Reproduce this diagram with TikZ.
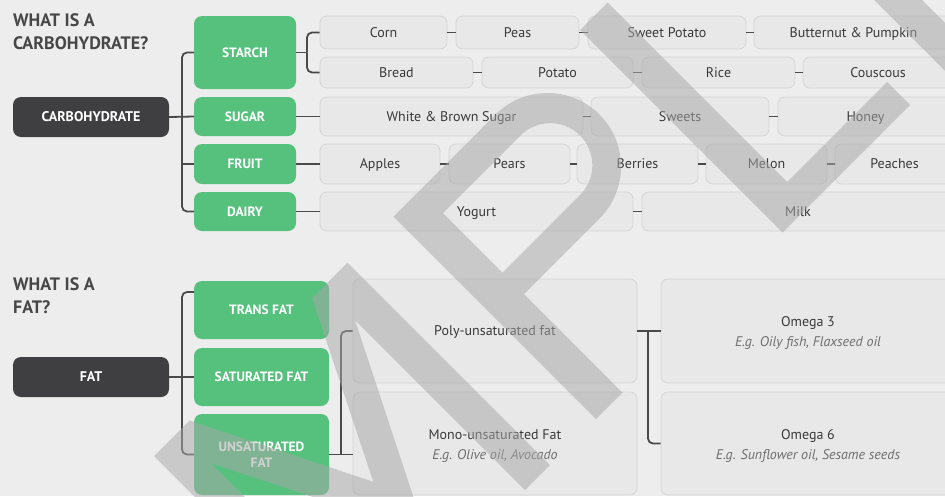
\documentclass[tikz,border=0pt]{standalone}
\usepackage{fontspec}
\setmainfont{PT Sans}
\definecolor{bgc}{HTML}{EDEDED}
\definecolor{boxfill}{HTML}{E8E8E8}
\definecolor{boxline}{HTML}{D4D4D4}
\definecolor{grn}{HTML}{55C17D}
\definecolor{darkbox}{HTML}{3F3F41}
\definecolor{ink}{HTML}{3A3A3A}
\definecolor{subink}{HTML}{6E6E6E}
\definecolor{wirec}{HTML}{4A4A4A}
\definecolor{titlec}{HTML}{474747}
\definecolor{wmark}{HTML}{A8A8A8}
\newcommand\bx[7]{\node[#2, minimum width={(#5-#3)*1pt}, minimum height={(#6-#4)*1pt}] (#1) at ({(#3+#5)/2},{(#4+#6)/2}) {#7};}
\newcommand\twoline[2]{\rule{0pt}{14.5pt}#1\\{\itshape\color{subink}#2}\rule[-3.5pt]{0pt}{0pt}}
\tikzset{
  item/.style={draw=boxline, fill=boxfill, line width=0.7pt, rounded corners=7pt, inner sep=0pt, text=ink, font=\fontsize{14}{16}\selectfont, text height=9.8pt, text depth=0pt},
  sub/.style={draw=boxline, fill=boxfill, line width=0.7pt, rounded corners=7pt, inner sep=0pt, text=ink, align=center, font=\fontsize{14}{20}\selectfont},
  cat/.style={fill=grn, rounded corners=8pt, inner sep=0pt, text=white, align=center, font=\bfseries\fontsize{13.5}{16.5}\selectfont},
  root/.style={fill=darkbox, rounded corners=8pt, inner sep=0pt, text=white, font=\bfseries\fontsize{14}{16}\selectfont},
  wire/.style={draw=wirec, line width=1.8pt},
  bus/.style={wire, rounded corners=5pt},
  link/.style={draw=wirec, line width=1.6pt},
  heading/.style={text=titlec, font=\bfseries\fontsize{18}{23}\selectfont, align=left, anchor=north west, inner sep=0pt},
  wm/.style={fill=wmark, fill opacity=0.52, even odd rule},
}
\begin{document}
\begin{tikzpicture}[x=1pt, y=-1pt]
\useasboundingbox (0,0) rectangle (945,496);
\clip (0,0) rectangle (945,496);
\fill[bgc] (0,0) rectangle (945,496);

% headings
\node[heading] (h1) at (13,13) {WHAT IS A\\CARBOHYDRATE?};
\node[heading] (h2) at (13,277) {WHAT IS A\\FAT?};

% carbohydrate section
\bx{carb}{root}{13}{97}{169}{137}{CARBOHYDRATE}
\bx{starch}{cat}{194}{16}{296}{89}{STARCH}
\bx{sugar}{cat}{194}{97}{296}{136}{SUGAR}
\bx{fruit}{cat}{194}{144}{296}{184}{FRUIT}
\bx{dairy}{cat}{194}{192}{296}{231}{DAIRY}

\bx{corn}{item}{320}{16}{447}{49}{Corn}
\bx{peas}{item}{456}{16}{579}{49}{Peas}
\bx{swpot}{item}{588}{16}{746}{49}{Sweet Potato}
\bx{butter}{item}{754}{16}{953}{49}{Butternut \& Pumpkin}
\bx{bread}{item}{320}{57}{473}{88}{Bread}
\bx{potato}{item}{482}{57}{633}{88}{Potato}
\bx{rice}{item}{642}{57}{795}{88}{Rice}
\bx{cous}{item}{803}{57}{953}{88}{Couscous}
\bx{wbs}{item}{320}{97}{583}{136}{White \& Brown Sugar}
\bx{sweets}{item}{591}{97}{769}{136}{Sweets}
\bx{honey}{item}{778}{97}{953}{136}{Honey}
\bx{apples}{item}{320}{144}{440}{184}{Apples}
\bx{pears}{item}{449}{144}{570}{184}{Pears}
\bx{berries}{item}{577}{144}{698}{184}{Berries}
\bx{melon}{item}{706}{144}{827}{184}{Melon}
\bx{peaches}{item}{835}{144}{954}{184}{Peaches}
\bx{yogurt}{item}{320}{192}{633}{231}{Yogurt}
\bx{milk}{item}{642}{192}{954}{231}{Milk}

\coordinate (cbus) at (182,117);
\coordinate (sbus) at (307,52.5);
\draw[wire] (carb.east) -- (sugar.west);
\draw[bus] (cbus) |- (starch.west);
\draw[bus] (cbus) |- (dairy.west);
\draw[wire] (cbus) |- (fruit.west);
\draw[wire] (starch.east) -- (sbus);
\draw[bus] (sbus) |- (corn.west);
\draw[bus] (sbus) |- (bread.west);
\draw[wire] (sugar.east) -- (wbs.west);
\draw[wire] (fruit.east) -- (apples.west);
\draw[wire] (dairy.east) -- (yogurt.west);

\draw[link] (corn.east) -- (peas.west);
\draw[link] (peas.east) -- (swpot.west);
\draw[link] (swpot.east) -- (butter.west);
\draw[link] (bread.east) -- (potato.west);
\draw[link] (potato.east) -- (rice.west);
\draw[link] (rice.east) -- (cous.west);
\draw[link] (wbs.east) -- (sweets.west);
\draw[link] (sweets.east) -- (honey.west);
\draw[link] (apples.east) -- (pears.west);
\draw[link] (pears.east) -- (berries.west);
\draw[link] (berries.east) -- (melon.west);
\draw[link] (melon.east) -- (peaches.west);
\draw[link] (yogurt.east) -- (milk.west);

% fat section
\bx{fat}{root}{13}{357}{169}{397}{FAT}
\bx{trans}{cat}{194}{281}{329}{339}{TRANS FAT}
\bx{sat}{cat}{194}{348}{329}{406}{SATURATED FAT}
\bx{unsat}{cat}{194}{414}{329}{495}{UNSATURATED\\FAT}
\bx{poly}{item}{353}{279}{637}{383}{Poly-unsaturated fat}
\bx{mono}{sub}{353}{392}{637}{495}{\twoline{Mono-unsaturated Fat}{E.g. Olive oil, Avocado}}
\bx{om3}{sub}{661}{279}{955}{383}{\twoline{Omega 3}{E.g. Oily fish, Flaxseed oil}}
\bx{om6}{sub}{661}{392}{955}{495}{\twoline{Omega 6}{E.g. Sunflower oil, Sesame seeds}}

\coordinate (fbus) at (182,377);
\coordinate (tin) at (194,292);
\coordinate (ubus) at (341,454.5);
\coordinate (obus) at (648,331);
\draw[wire] (fat.east) -- (sat.west);
\draw[bus] (fbus) |- (tin);
\draw[bus] (fbus) |- (unsat.west);
\draw[wire] (unsat.east) -- (unsat.east -| mono.west);
\draw[bus] (ubus) |- (poly.west);
\draw[wire] (poly.east) -- (om3.west);
\draw[bus] (obus) |- (om6.west);

% watermark
\begin{scope}[x={(0.5pt,0.5pt)}, y={(0.5pt,-0.5pt)}]
\fill[wm] (-302,1015) -- (-302,610) -- (-231,610) -- (-108.5,855) -- (14,610) -- (85,610) -- (85,1015) -- (35,1015) -- (35,675) -- (-108.5,960) -- (-252,675) -- (-252,1015) -- cycle;
\fill[wm] (177,1015) -- (177,610) -- (381,610) .. controls (438.4,610) and (485,656.6) .. (485,714) .. controls (485,771.4) and (438.4,818) .. (381,818) -- (230,818) -- (230,1015) -- cycle
  (230,656) -- (385,656) .. controls (417.9,656) and (444.5,682.6) .. (444.5,715.5) .. controls (444.5,748.4) and (417.9,775) .. (385,775) -- (230,775) -- cycle;
\fill[wm] (550,610) -- (605,610) -- (605,969) -- (805,969) -- (805,1015) -- (550,1015) -- cycle;
\fill[wm] (874,610) -- (1100,610) -- (1100,656) -- (922,656) -- (922,790) -- (1080,790) -- (1080,836) -- (922,836) -- (922,969) -- (1100,969) -- (1100,1015) -- (874,1015) -- cycle;
\end{scope}
\end{tikzpicture}
\end{document}
